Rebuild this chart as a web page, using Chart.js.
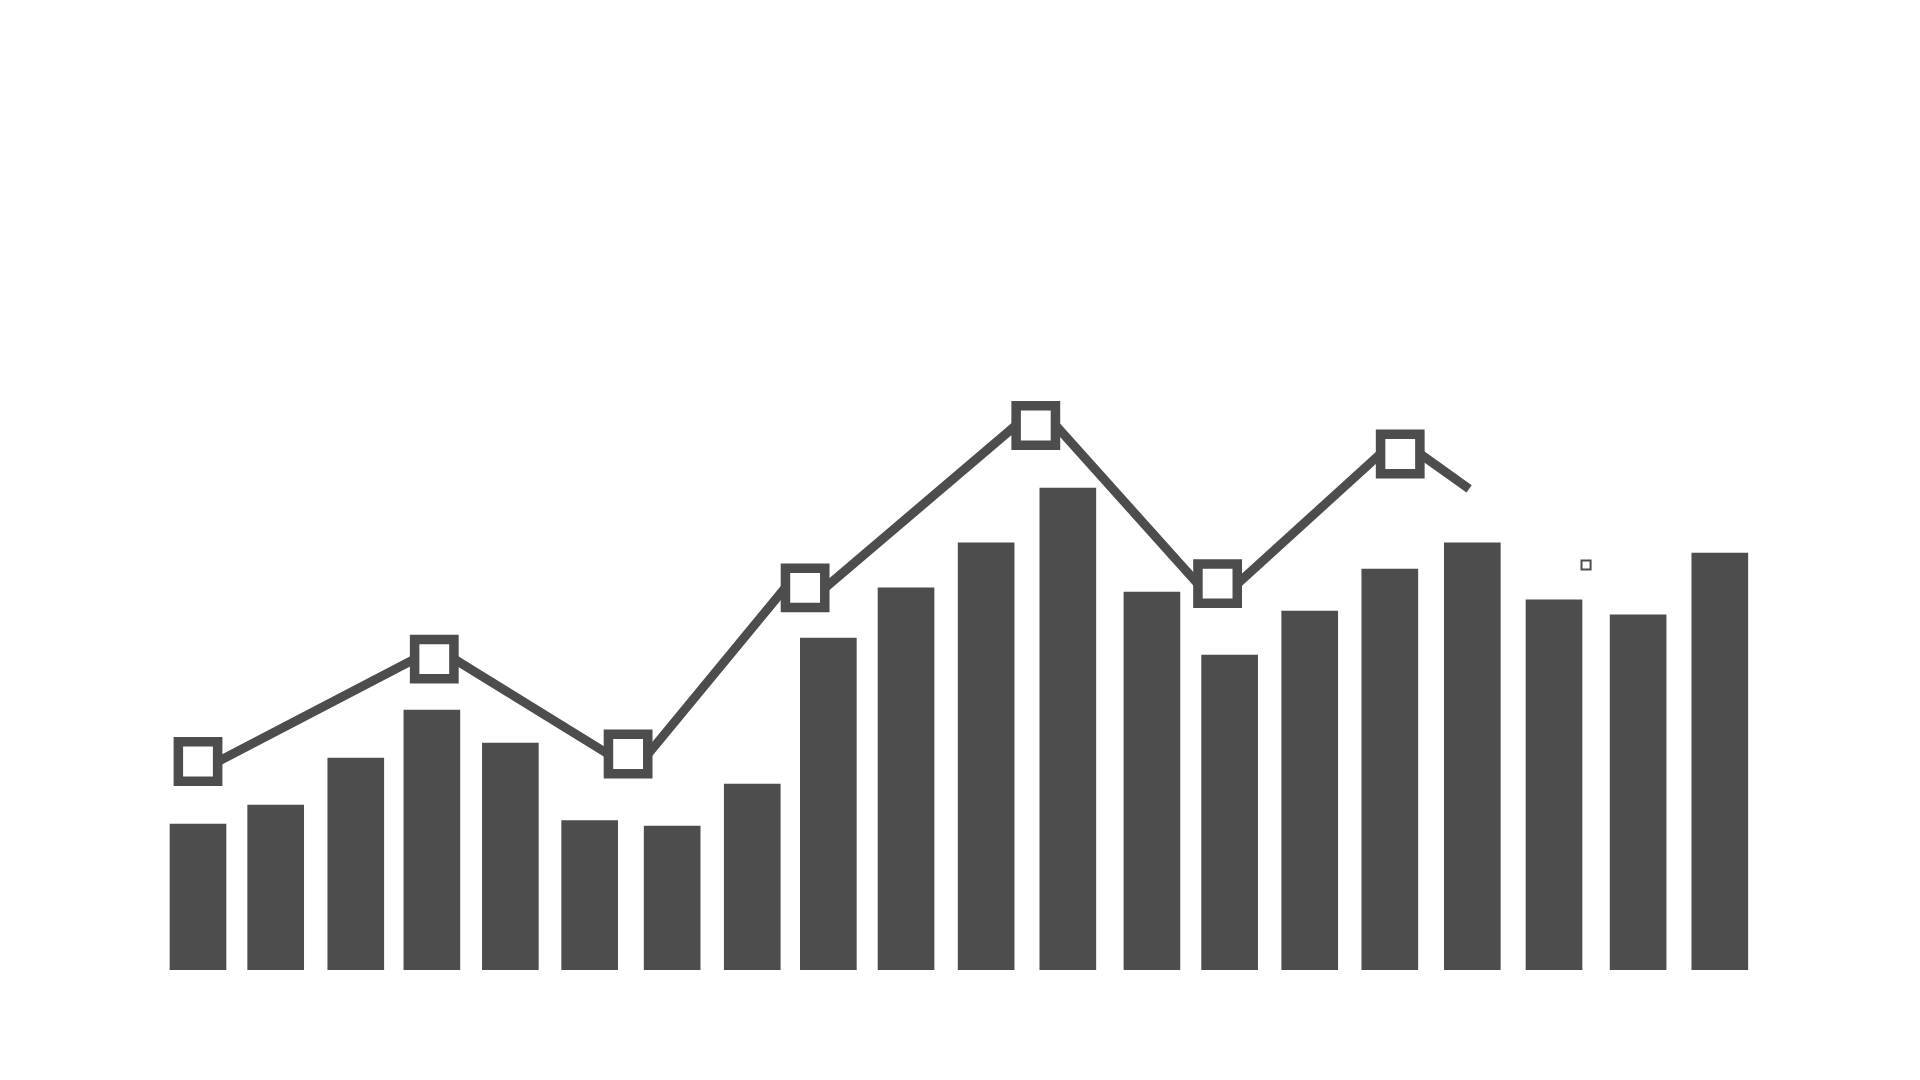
<!DOCTYPE html>
<html>
<head>
<meta charset="utf-8">
<script src="https://cdn.jsdelivr.net/npm/chart.js@4"></script>
<style>
    html, body { margin: 0; padding: 0; background: #ffffff; }
    .wrap { width: 1920px; height: 1080px; position: relative; }
</style>
</head>
<body>
<div class="wrap"><canvas id="mainChart"></canvas></div>
<script>
const barPositions = [0, 0.97, 1.97, 2.92, 3.9, 4.89, 5.92, 6.92, 7.87, 8.84, 9.84, 10.86, 11.91, 12.88, 13.88, 14.88, 15.91, 16.93, 17.98, 19];
const barValues = [24.3, 27.5, 35.3, 43.3, 37.8, 24.9, 24.0, 31.0, 55.3, 63.7, 71.2, 80.3, 63.0, 52.5, 59.8, 66.8, 71.2, 61.7, 59.2, 69.5];
const markerPositions = [0, 2.95, 5.37, 7.58, 10.46, 12.73, 15.01];
const markerValues = [34.75, 51.8, 36.0, 63.7, 90.75, 64.4, 86.0];
const lineEndPositions = [15.87];
const lineEndValues = [80.2];
const extraPositions = [17.33];
const extraValues = [67.5];

const ink = '#4d4d4d';
const markerHalf = 0.25; // the line leaves each marker at its side, not its centre
const pairs = (xs, ys) => xs.map((x, i) => ({ x, y: ys[i] }));

const lineData = markerPositions
    .flatMap((x, i) => [{ x: x - markerHalf, y: markerValues[i] }, { x: x + markerHalf, y: markerValues[i] }])
    .concat(pairs(lineEndPositions, lineEndValues));

const ctx = document.getElementById('mainChart').getContext('2d');

new Chart(ctx, {
    type: 'bar',
    data: {
        datasets: [
            {
                type: 'line',
                data: lineData,
                borderColor: ink,
                borderWidth: 9,
                borderJoinStyle: 'round',
                tension: 0,
                fill: false,
                clip: false,
                pointRadius: 0,
                order: 1,
            },
            {
                type: 'line',
                data: pairs(markerPositions, markerValues),
                showLine: false,
                clip: false,
                order: 0,
                pointStyle: 'rect',
                pointRadius: 27.8,
                pointBorderWidth: 9.5,
                pointBorderColor: ink,
                pointBackgroundColor: '#ffffff',
            },
            {
                type: 'line',
                data: pairs(extraPositions, extraValues),
                showLine: false,
                clip: false,
                order: 0,
                pointStyle: 'rect',
                pointRadius: 6.4,
                pointBorderWidth: 2,
                pointBorderColor: ink,
                pointBackgroundColor: '#ffffff',
            },
            {
                data: pairs(barPositions, barValues),
                backgroundColor: ink,
                borderWidth: 0,
                barThickness: 56,
                order: 2,
            },
        ],
    },
    options: {
        responsive: true,
        maintainAspectRatio: false,
        animation: false,
        layout: { padding: { top: 370, bottom: 110, left: 117.9, right: 40 } },
        plugins: { legend: { display: false }, tooltip: { enabled: false } },
        scales: {
            x: { type: 'linear', min: -1, max: 21, display: false, offset: false },
            y: { min: 0, max: 100, display: false },
        },
    },
});
</script>
</body>
</html>
